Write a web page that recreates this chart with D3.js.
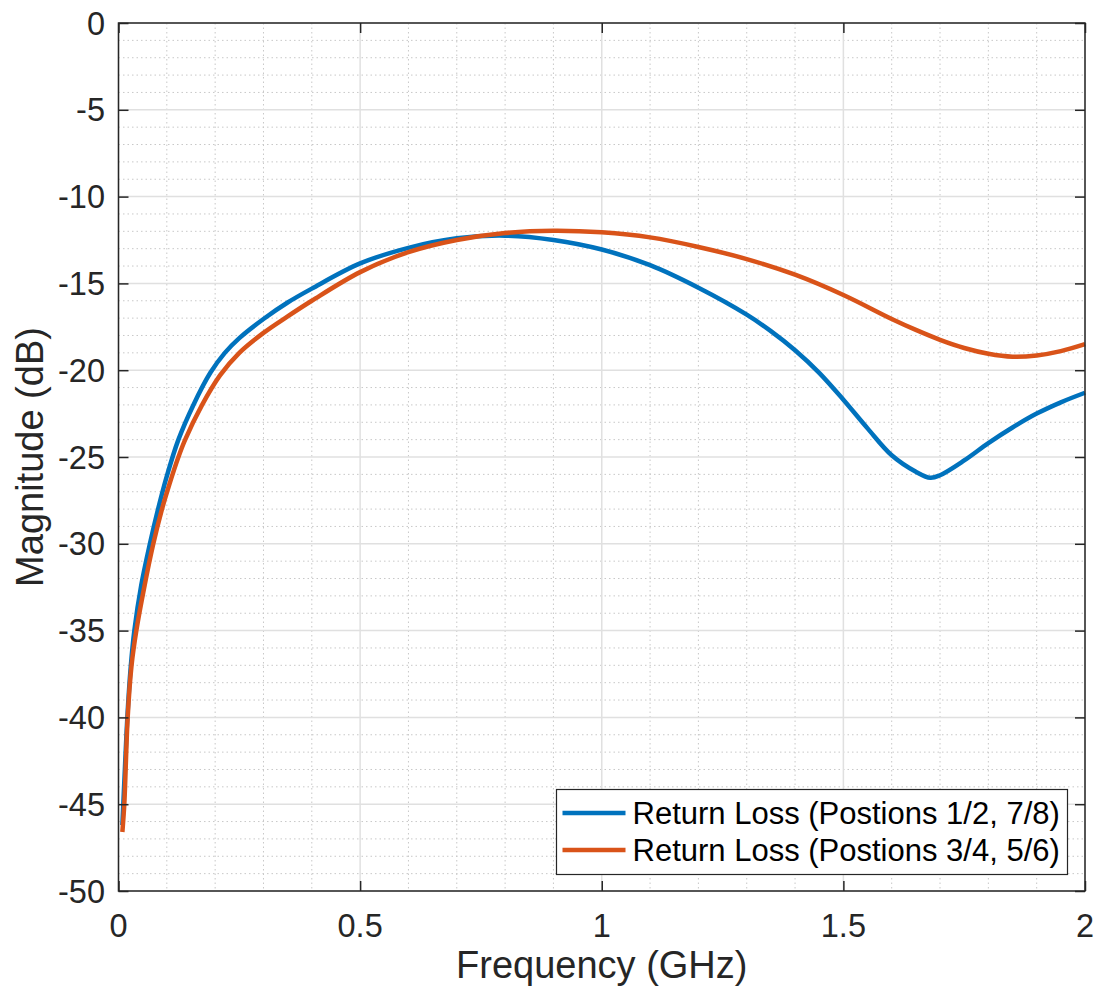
<!DOCTYPE html>
<html>
<head>
<meta charset="utf-8">
<script src="https://cdn.jsdelivr.net/npm/d3@7"></script>
<style>
  html, body { margin: 0; padding: 0; background: #fff; }
  svg { display: block; }
  text { font-family: "Liberation Sans", Arial, Helvetica, sans-serif; fill: #262626; }
</style>
</head>
<body>
<svg id="chart" width="1099" height="996"></svg>
<script>
// ---- Data ----
const freqBlue = [0.008, 0.0135, 0.0183, 0.025, 0.0328, 0.047, 0.065, 0.081, 0.1, 0.124, 0.155, 0.19, 0.22, 0.25, 0.3, 0.35, 0.4, 0.5, 0.6, 0.7, 0.8, 0.9, 1.0, 1.1, 1.2, 1.3, 1.35, 1.4, 1.45, 1.5, 1.55, 1.6, 1.65, 1.68, 1.7, 1.75, 1.8, 1.85, 1.9, 1.95, 2.0];
const magBlue  = [-46.2, -42.8, -40.0, -37.2, -35.0, -32.4, -30.0, -28.1, -26.1, -24.0, -22.0, -20.15, -19.0, -18.15, -17.05, -16.1, -15.3, -13.85, -12.95, -12.4, -12.25, -12.5, -13.05, -13.95, -15.25, -16.8, -17.75, -18.85, -20.15, -21.7, -23.35, -24.9, -25.85, -26.2, -26.05, -25.2, -24.2, -23.3, -22.5, -21.85, -21.3];
const freqOrange = [0.008, 0.012, 0.019, 0.027, 0.0369, 0.054, 0.072, 0.089, 0.105, 0.124, 0.138, 0.173, 0.21, 0.25, 0.3, 0.35, 0.4, 0.5, 0.6, 0.7, 0.8, 0.9, 1.0, 1.1, 1.2, 1.3, 1.4, 1.5, 1.6, 1.65, 1.7, 1.75, 1.8, 1.85, 1.9, 1.95, 2.0];
const magOrange  = [-46.6, -45.0, -40.0, -37.0, -35.0, -32.4, -30.0, -28.1, -26.6, -25.0, -24.0, -22.0, -20.3, -19.0, -17.85, -16.9, -16.0, -14.35, -13.2, -12.5, -12.1, -11.97, -12.06, -12.35, -12.9, -13.6, -14.5, -15.67, -17.05, -17.68, -18.25, -18.72, -19.05, -19.22, -19.15, -18.9, -18.5];
const xTicks = [0, 0.5, 1, 1.5, 2];
const xTickLabels = ["0", "0.5", "1", "1.5", "2"];
const yTicks = [0, -5, -10, -15, -20, -25, -30, -35, -40, -45, -50];
const yTickLabels = ["0", "-5", "-10", "-15", "-20", "-25", "-30", "-35", "-40", "-45", "-50"];
const seriesNames = ["Return Loss (Postions 1/2, 7/8)", "Return Loss (Postions 3/4, 5/6)"];
const seriesColors = ["#0072BD", "#D95319"];
const xLabel = "Frequency (GHz)";
const yLabel = "Magnitude (dB)";

// ---- Layout ----
const pL = 118.5, pR = 1085, pT = 23, pB = 891;
const svg = d3.select("#chart");
const x = d3.scaleLinear().domain([0, 2]).range([pL, pR]);
const y = d3.scaleLinear().domain([-50, 0]).range([pB, pT]);

// Minor grid (dotted)
const xMinor = d3.range(1, 20).map(i => i / 10).filter((v, i) => (i + 1) % 5 !== 0);
const yMinor = d3.range(-49, 0).filter(v => v % 5 !== 0);
const grid = svg.append("g");
grid.selectAll(".xm").data(xMinor).enter().append("line")
  .attr("x1", d => x(d)).attr("x2", d => x(d)).attr("y1", pT).attr("y2", pB)
  .attr("stroke", "#c8c8c8").attr("stroke-width", 1).attr("stroke-dasharray", "1.5,3");
grid.selectAll(".ym").data(yMinor).enter().append("line")
  .attr("y1", d => y(d)).attr("y2", d => y(d)).attr("x1", pL).attr("x2", pR)
  .attr("stroke", "#c8c8c8").attr("stroke-width", 1).attr("stroke-dasharray", "1.5,3");
// Major grid (solid)
grid.selectAll(".xM").data(xTicks).enter().append("line")
  .attr("x1", d => x(d)).attr("x2", d => x(d)).attr("y1", pT).attr("y2", pB)
  .attr("stroke", "#e0e0e0").attr("stroke-width", 1.5);
grid.selectAll(".yM").data(yTicks).enter().append("line")
  .attr("y1", d => y(d)).attr("y2", d => y(d)).attr("x1", pL).attr("x2", pR)
  .attr("stroke", "#e0e0e0").attr("stroke-width", 1.5);

// Lines
const line = d3.line().x(d => x(d[0])).y(d => y(d[1])).curve(d3.curveCatmullRom.alpha(0.5));
const blue = freqBlue.map((f, i) => [f, magBlue[i]]);
const orange = freqOrange.map((f, i) => [f, magOrange[i]]);
const plot = svg.append("g");
plot.append("path").datum(blue).attr("d", line).attr("fill", "none")
  .attr("stroke", seriesColors[0]).attr("stroke-width", 4.5).attr("stroke-linejoin", "round");
plot.append("path").datum(orange).attr("d", line).attr("fill", "none")
  .attr("stroke", seriesColors[1]).attr("stroke-width", 4.5).attr("stroke-linejoin", "round");

// Axes using d3 axis generators, ticks inward
const axisColor = "#262626";
const tickLen = 10;
function styleAxis(g) {
  g.select(".domain").remove();
  g.selectAll(".tick line").attr("stroke", axisColor).attr("stroke-width", 1.5);
  g.selectAll(".tick text").remove();
}
svg.append("g").attr("transform", `translate(0,${pB})`)
  .call(d3.axisBottom(x).tickValues(xTicks).tickSize(-tickLen)).call(styleAxis);
svg.append("g").attr("transform", `translate(0,${pT})`)
  .call(d3.axisTop(x).tickValues(xTicks).tickSize(-tickLen)).call(styleAxis);
svg.append("g").attr("transform", `translate(${pL},0)`)
  .call(d3.axisLeft(y).tickValues(yTicks).tickSize(-tickLen)).call(styleAxis);
svg.append("g").attr("transform", `translate(${pR},0)`)
  .call(d3.axisRight(y).tickValues(yTicks).tickSize(-tickLen)).call(styleAxis);

// Box
svg.append("rect").attr("x", pL).attr("y", pT).attr("width", pR - pL).attr("height", pB - pT)
  .attr("fill", "none").attr("stroke", axisColor).attr("stroke-width", 1.5);

// Tick labels
svg.append("g").selectAll("text").data(xTicks).enter().append("text")
  .attr("x", d => x(d)).attr("y", 937).attr("text-anchor", "middle")
  .style("font-size", "32.5px").text((d, i) => xTickLabels[i]);
svg.append("g").selectAll("text").data(yTicks).enter().append("text")
  .attr("x", 105).attr("y", d => y(d) + 11.5).attr("text-anchor", "end")
  .style("font-size", "32.5px").text((d, i) => yTickLabels[i]);

// Axis labels
svg.append("text").attr("x", (pL + pR) / 2).attr("y", 978).attr("text-anchor", "middle")
  .style("font-size", "38px").text(xLabel);
svg.append("text").attr("transform", `translate(43,${(pT + pB) / 2}) rotate(-90)`)
  .attr("text-anchor", "middle").style("font-size", "38px").text(yLabel);

// Legend
const lg = svg.append("g");
const lgX = 556.5, lgY = 789.5, lgW = 511, lgH = 85;
lg.append("rect").attr("x", lgX).attr("y", lgY).attr("width", lgW).attr("height", lgH)
  .attr("fill", "#fff").attr("stroke", axisColor).attr("stroke-width", 1.2);
seriesNames.forEach((name, i) => {
  const cy = lgY + 23.5 + i * 37;
  lg.append("line").attr("x1", lgX + 6).attr("x2", lgX + 69).attr("y1", cy).attr("y2", cy)
    .attr("stroke", seriesColors[i]).attr("stroke-width", 4.5);
  lg.append("text").attr("x", lgX + 76).attr("y", cy + 11)
    .style("font-size", "31px").style("fill", "#000").text(name);
});
</script>
</body>
</html>
